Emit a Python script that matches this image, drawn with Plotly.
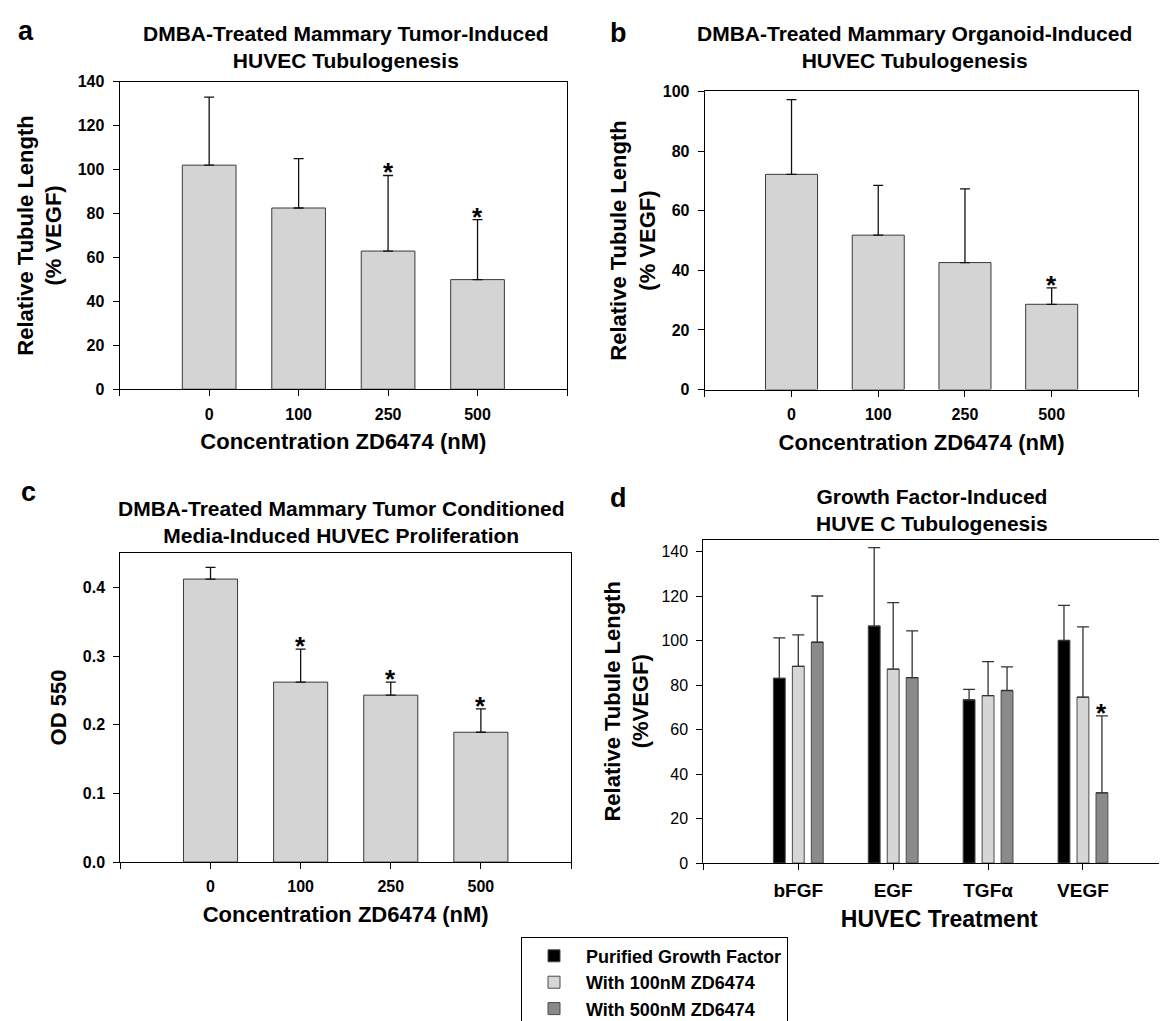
import plotly.graph_objects as go

W, H = 1167, 1021
FONT = "Liberation Sans, Arial, Helvetica, sans-serif"

# ---------------- data ----------------
conc_labels = ["0", "100", "250", "500"]

a_mean = [102.0, 82.5, 62.9, 49.9]
a_err = [31.0, 22.5, 34.4, 27.3]
a_sig = [False, False, True, True]

b_mean = [72.2, 51.8, 42.6, 28.6]
b_err = [25.1, 16.7, 24.7, 5.5]
b_sig = [False, False, False, True]

c_mean = [0.412, 0.262, 0.243, 0.189]
c_err = [0.017, 0.048, 0.019, 0.034]
c_sig = [False, True, True, True]

gf_labels = ["bFGF", "EGF", "TGFα", "VEGF"]
d_series = ["Purified Growth Factor", "With 100nM ZD6474", "With 500nM ZD6474"]
d_pure = [83.1, 106.6, 73.4, 100.1]
d_pure_err = [18.2, 35.3, 4.7, 15.8]
d_100 = [88.5, 87.2, 75.3, 74.6]
d_100_err = [14.1, 29.9, 15.3, 31.6]
d_500 = [99.3, 83.4, 77.6, 31.6]
d_500_err = [20.8, 21.0, 10.6, 34.6]
d_sig = [[False] * 4, [False] * 4, [False, False, False, True]]

titles = {
    "a": "DMBA-Treated Mammary Tumor-Induced<br>HUVEC Tubulogenesis",
    "b": "DMBA-Treated Mammary Organoid-Induced<br>HUVEC Tubulogenesis",
    "c": "DMBA-Treated Mammary Tumor Conditioned<br>Media-Induced HUVEC Proliferation",
    "d": "Growth Factor-Induced<br>HUVE C Tubulogenesis",
}


# ---------------- helpers (layout only) ----------------
def fx(p):
    return p / W


def fy(p):
    return 1 - p / H


fig = go.Figure()
annotations = []

single_panels = [
    ("x", "y", a_mean, a_err, a_sig),
    ("x2", "y2", b_mean, b_err, b_sig),
    ("x3", "y3", c_mean, c_err, c_sig),
]
for xa, ya, mean, err, sig in single_panels:
    pos = list(range(len(conc_labels)))
    fig.add_trace(go.Bar(
        x=pos, y=mean, xaxis=xa, yaxis=ya, width=0.6, showlegend=False,
        marker=dict(color="#d4d4d4", line=dict(color="#3a3a3a", width=1)),
        error_y=dict(type="data", symmetric=False, array=err,
                     arrayminus=[0] * len(err), color="#111111",
                     thickness=1.3, width=5),
    ))
    for p, m, e, s in zip(pos, mean, err, sig):
        if s:
            annotations.append(dict(
                x=p, y=m + e, xref=xa, yref=ya, text="*", showarrow=False,
                xanchor="center", yanchor="bottom", yshift=-14,
                font=dict(family=FONT, size=26, color="black", weight="bold")))

d_colors = ["#000000", "#d6d6d6", "#8a8a8a"]
d_means = [d_pure, d_100, d_500]
d_errs = [d_pure_err, d_100_err, d_500_err]
bw = 0.125
centers = [-0.2, 0.0, 0.2]
for name, col, mean, err, cshift, sig in zip(d_series, d_colors, d_means, d_errs, centers, d_sig):
    pos = list(range(len(gf_labels)))
    fig.add_trace(go.Bar(
        name=name, x=pos, y=mean, xaxis="x4", yaxis="y4",
        width=bw, offset=cshift - bw / 2,
        marker=dict(color=col, line=dict(color="#4a4a4a", width=1)),
        error_y=dict(type="data", symmetric=False, array=err,
                     arrayminus=[0] * len(err), color="#333333",
                     thickness=1.3, width=6),
    ))
    for p, m, e, s in zip(pos, mean, err, sig):
        if s:
            annotations.append(dict(
                x=p + cshift, y=m + e, xref="x4", yref="y4", text="*", showarrow=False,
                xanchor="center", yanchor="bottom", yshift=-14,
                font=dict(family=FONT, size=26, color="black", weight="bold")))

bold = dict(family=FONT, color="black", weight="bold")


def xaxis_common(domain, rng, tickvals, ticktext, title, tsize, tfsize, standoff):
    return dict(
        domain=domain, range=rng, tickmode="array", tickvals=tickvals, ticktext=ticktext,
        ticks="outside", ticklen=6, tickwidth=1, tickcolor="black", ticklabelstandoff=4,
        showline=True, linecolor="black", linewidth=1.2, mirror=True,
        showgrid=False, zeroline=False, fixedrange=True,
        tickfont=dict(bold, size=tsize),
        title=dict(text=title, font=dict(bold, size=tfsize), standoff=standoff),
    )


def yaxis_common(domain, anchor, rng, tickvals, tickfmt, title, tickfont, standoff, mirror):
    return dict(
        domain=domain, anchor=anchor, range=rng, tickmode="array", tickvals=tickvals,
        tickformat=tickfmt, ticks="outside", ticklen=6, tickwidth=1, tickcolor="black",
        ticklabelstandoff=5, showline=True, linecolor="black", linewidth=1.2, mirror=mirror,
        showgrid=False, zeroline=False, fixedrange=True, tickfont=tickfont,
        title=dict(text=title, font=dict(bold, size=22), standoff=standoff),
    )


conc_ticks = [-1] + list(range(len(conc_labels))) + [len(conc_labels)]
conc_text = [""] + conc_labels + [""]

layout = dict(
    width=W, height=H, margin=dict(l=0, r=0, t=0, b=0),
    paper_bgcolor="white", plot_bgcolor="white", barmode="overlay",
    font=dict(family=FONT, color="black"),
    xaxis=dict(xaxis_common([fx(111.7), fx(559)], [-1, 4], conc_ticks, conc_text,
                            "Concentration ZD6474 (nM)", 16, 22, 12), anchor="y"),
    yaxis=yaxis_common([fy(380.7), fy(67)], "x", [0, 140], list(range(0, 141, 20)), "d",
                       "Relative Tubule Length<br>(% VEGF)", dict(bold, size=16), 9, True),
    xaxis2=dict(xaxis_common([fx(696.8), fx(1130.4)], [-1, 4], conc_ticks, conc_text,
                             "Concentration ZD6474 (nM)", 16, 22, 12), anchor="y2"),
    yaxis2=yaxis_common([fy(381), fy(77)], "x2", [0, 100], list(range(0, 101, 20)), "d",
                        "Relative Tubule Length<br>(% VEGF)", dict(bold, size=16), 1, True),
    xaxis3=dict(xaxis_common([fx(112.4), fx(563)], [-1, 4], conc_ticks, conc_text,
                             "Concentration ZD6474 (nM)", 16, 22, 12), anchor="y3"),
    yaxis3=yaxis_common([fy(863), fy(547.7)], "x3", [0, 0.45], [0, 0.1, 0.2, 0.3, 0.4], ".1f",
                        "OD 550", dict(bold, size=16), 10, True),
    xaxis4=dict(xaxis_common([fx(695.4), 1.0], [-1, 3.97], list(range(-1, len(gf_labels))),
                             [""] + gf_labels, "HUVEC Treatment", 19, 23, 10), anchor="y4"),
    yaxis4=yaxis_common([fy(864), fy(534)], "x4", [0, 145.5], list(range(0, 141, 20)), "d",
                        "Relative Tubule Length<br>(%VEGF)",
                        dict(family=FONT, color="black", size=16), 6, False),
    legend=dict(
        x=fx(513), y=fy(939), xanchor="left", yanchor="top",
        bordercolor="black", borderwidth=1, bgcolor="white",
        font=dict(bold, size=18), itemwidth=54, traceorder="normal",
        itemclick=False, itemdoubleclick=False,
    ),
)

# panel titles
for key, (cx, cy) in {"a": (338, 32), "b": (906, 32), "c": (332.5, 516.5), "d": (923.5, 504)}.items():
    annotations.append(dict(
        x=fx(cx), y=fy(cy), xref="paper", yref="paper", text=titles[key], showarrow=False,
        xanchor="center", yanchor="middle", align="center",
        font=dict(bold, size=21)))

# panel letters
for key, (cx, cy) in {"a": (17.5, 15), "b": (610, 17), "c": (20, 486), "d": (610, 492)}.items():
    annotations.append(dict(
        x=fx(cx), y=fy(cy), xref="paper", yref="paper", text=key, showarrow=False,
        xanchor="center", yanchor="middle", font=dict(bold, size=27)))

layout["annotations"] = annotations
fig.update_layout(**layout)
fig.write_html("out.html")
